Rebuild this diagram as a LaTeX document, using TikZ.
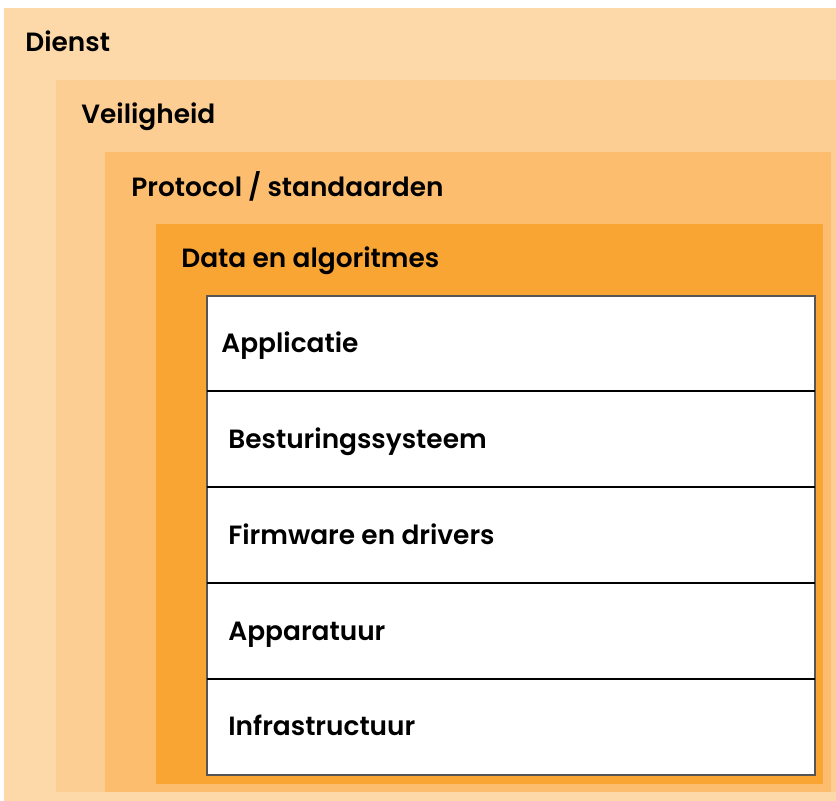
\documentclass[tikz,border=0pt]{standalone}
\usepackage{fontspec}
\setmainfont{Poppins}[UprightFont=* SemiBold]
\definecolor{dienstc}{RGB}{253,216,168}
\definecolor{veiligc}{RGB}{253,206,148}
\definecolor{protoc}{RGB}{252,190,110}
\definecolor{datac}{RGB}{249,165,52}
\definecolor{randc}{RGB}{85,85,85}

\tikzstyle{layer}=[anchor=north west, inner sep=0pt, outer sep=0pt]
\tikzstyle{lbl}=[anchor=base west, inner sep=0pt, font=\fontsize{13.2}{16}\selectfont]
\tikzstyle{rij}=[black, line width=0.6pt]

\begin{document}
\begin{tikzpicture}[x=0.5pt, y=-0.5pt]
    \fill[white] (0, 0) rectangle (836, 801);
    \useasboundingbox (0, 0) rectangle (836, 801);
    % lagen
    \node[layer, fill=dienstc, minimum width=416pt, minimum height=396.5pt] (dienst) at (4, 8) {};
    \node[layer, fill=veiligc, minimum width=390pt, minimum height=356pt] (veilig) at (56, 80) {};
    \node[layer, fill=protoc, minimum width=363pt, minimum height=320pt] (proto) at (105, 152) {};
    \node[layer, fill=datac, minimum width=333.5pt, minimum height=280pt] (data) at (156, 224) {};
    \node[layer, fill=white, draw=randc, line width=0.6pt, minimum width=304pt, minimum height=239.5pt] (stack) at (207, 296) {};
    % scheidingslijnen
    \foreach \y in {391, 487, 583, 679}
        \draw[rij] (stack.west |- 0, \y) -- (stack.east |- 0, \y);
    % teksten
    \node[lbl] (tdienst) at (25, 52) {Dienst};
    \node[lbl] (tveilig) at (81, 124) {Veiligheid};
    \node[lbl] (tproto) at (131, 197) {Protocol / standaarden};
    \node[lbl] (tdata) at (181, 268) {Data en algoritmes};
    \node[lbl] (tapp) at (221, 353) {Applicatie};
    \node[lbl] (tos) at (228, 449) {Besturingssysteem};
    \node[lbl] (tfirm) at (228, 545) {Firmware en drivers};
    \node[lbl] (tapp2) at (228, 641) {Apparatuur};
    \node[lbl] (tinfra) at (228, 736) {Infrastructuur};
\end{tikzpicture}
\end{document}
